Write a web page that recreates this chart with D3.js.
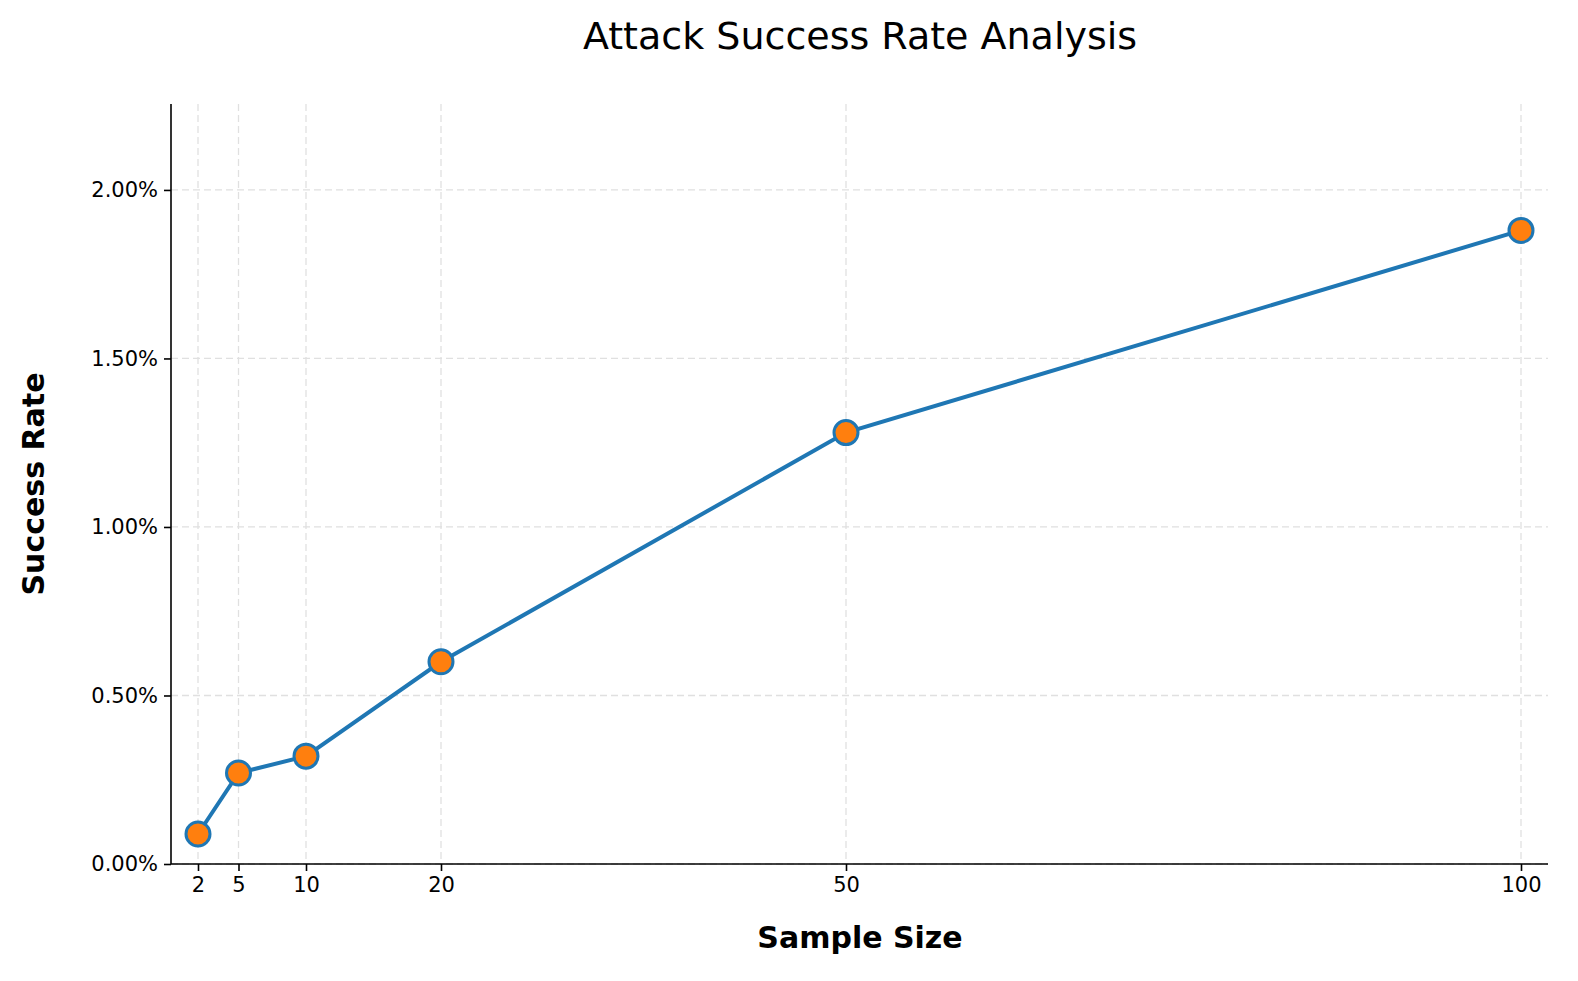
<!DOCTYPE html>
<html><head><meta charset="utf-8">
<script src="https://cdn.jsdelivr.net/npm/d3@7"></script>
<style>body{margin:0;background:#fff}text{font-family:"DejaVu Sans",sans-serif}</style>
</head><body><svg id="chart" width="1578" height="981"></svg>
<script>
var sampleSizes = [2, 5, 10, 20, 50, 100];
var successRates = [0.089, 0.27, 0.32, 0.60, 1.28, 1.88];
var yTicks = [0, 0.5, 1.0, 1.5, 2.0];

var svg = d3.select("#chart");
var pLeft = 171, pRight = 1548, pTop = 104, pBottom = 864;
var x = d3.scaleLinear().domain([0, 102]).range([pLeft, pRight]);
var y = d3.scaleLinear().domain([0, 2.255]).range([pBottom, pTop]);

// grid
svg.append("g").selectAll("line").data(sampleSizes).join("line")
  .attr("x1", d => x(d)).attr("x2", d => x(d)).attr("y1", pTop).attr("y2", pBottom)
  .attr("stroke", "#e0e0e0").attr("stroke-dasharray", "7,4").attr("stroke-width", 1.3);
svg.append("g").selectAll("line").data(yTicks).join("line")
  .attr("x1", pLeft).attr("x2", pRight).attr("y1", d => y(d)).attr("y2", d => y(d))
  .attr("stroke", "#e0e0e0").attr("stroke-dasharray", "7,4").attr("stroke-width", 1.3);

// axes
var xAxis = svg.append("g").attr("transform", `translate(0,${pBottom})`)
  .call(d3.axisBottom(x).tickValues(sampleSizes).tickSize(7).tickPadding(6).tickSizeOuter(0));
var yAxis = svg.append("g").attr("transform", `translate(${pLeft},0)`)
  .call(d3.axisLeft(y).tickValues(yTicks).tickFormat(d => d.toFixed(2) + "%").tickSize(7).tickPadding(6).tickSizeOuter(0));
[xAxis, yAxis].forEach(a => {
  a.selectAll("text").attr("font-size", 21).attr("fill", "#000");
  a.selectAll("line, path").attr("stroke", "#000").attr("stroke-width", 1.6);
});
yAxis.select("path").attr("d", `M0,${pTop}V${pBottom}`);
xAxis.select("path").attr("d", `M${pLeft},0H${pRight}`);

// line + markers
var pts = sampleSizes.map((s, i) => [s, successRates[i]]);
svg.append("path").datum(pts)
  .attr("d", d3.line().x(d => x(d[0])).y(d => y(d[1])))
  .attr("fill", "none").attr("stroke", "#1f77b4").attr("stroke-width", 4);
svg.append("g").selectAll("circle").data(pts).join("circle")
  .attr("cx", d => x(d[0])).attr("cy", d => y(d[1])).attr("r", 12)
  .attr("fill", "#ff7f0e").attr("stroke", "#1f77b4").attr("stroke-width", 3);

// labels
svg.append("text").attr("x", 860).attr("y", 49).attr("text-anchor", "middle")
  .attr("font-size", 38).text("Attack Success Rate Analysis");
svg.append("text").attr("x", 860).attr("y", 948).attr("text-anchor", "middle")
  .attr("font-size", 30).attr("font-weight", "bold").text("Sample Size");
svg.append("text").attr("transform", "translate(44,484) rotate(-90)").attr("text-anchor", "middle")
  .attr("font-size", 30).attr("font-weight", "bold").text("Success Rate");
</script></body></html>
